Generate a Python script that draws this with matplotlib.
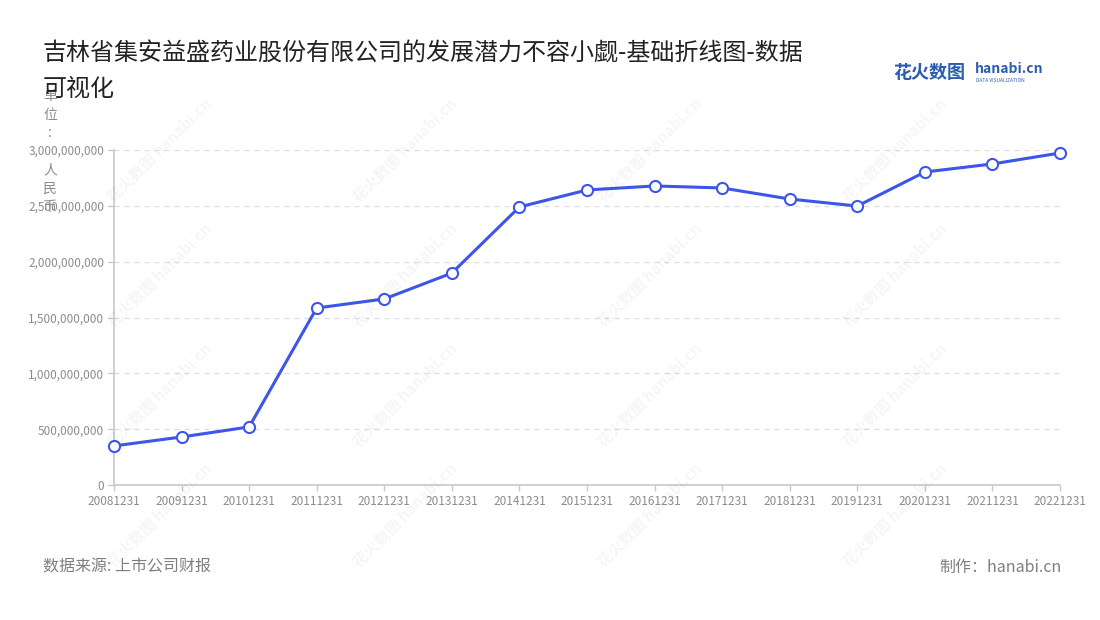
import matplotlib
matplotlib.use("Agg")
import matplotlib.pyplot as plt
from matplotlib.ticker import FuncFormatter

plt.rcParams['font.family'] = ['Noto Sans CJK SC', 'DejaVu Sans']

# 数据
years = ["20081231", "20091231", "20101231", "20111231", "20121231", "20131231",
         "20141231", "20151231", "20161231", "20171231", "20181231", "20191231",
         "20201231", "20211231", "20221231"]
values = [350e6, 430e6, 520e6, 1585e6, 1666e6, 1898e6, 2490e6, 2642e6,
          2678e6, 2660e6, 2561e6, 2498e6, 2803e6, 2875e6, 2973e6]
yticks = [0, 500e6, 1000e6, 1500e6, 2000e6, 2500e6, 3000e6]

title = "吉林省集安益盛药业股份有限公司的发展潜力不容小觑-基础折线图-数据\n可视化"
unit = "单位: 人民币"

fig = plt.figure(figsize=(11, 6.2), dpi=100)
ax = fig.add_axes([114/1100, 1-485/620, (1060-114)/1100, (485-150)/620])

xs = list(range(len(years)))
ax.plot(xs, values, color="#3d55e8", lw=2.2, marker="o", ms=8,
        mfc="white", mec="#3d55e8", mew=1.5, zorder=5, clip_on=False)

ax.set_xlim(0, len(years)-1)
ax.set_ylim(0, 3000e6)
ax.set_xticks(xs)
ax.set_xticklabels(years)
ax.set_yticks(yticks)
ax.yaxis.set_major_formatter(FuncFormatter(lambda v, p: f"{int(v):,}"))
ax.grid(axis="y", color="#dddddd", ls=(0, (4, 4)), lw=0.9)
ax.set_axisbelow(True)
for s in ["top", "right"]:
    ax.spines[s].set_visible(False)
for s in ["left", "bottom"]:
    ax.spines[s].set_color("#c8c8c8")
    ax.spines[s].set_linewidth(1.2)
ax.tick_params(axis="both", colors="#c8c8c8", labelcolor="#8c8c8c",
               labelsize=8.5, length=4, width=1)
ax.tick_params(axis="y", pad=3)

# 单位竖排
for i, ch in enumerate(unit):
    fig.text(50/1100, 1-(96 + i*18.5)/620, ch, ha="center", va="center",
             fontsize=10, color="#8c8c8c")

# 标题
fig.text(43/1100, 1-41/620, title, ha="left", va="top", fontsize=17.3,
         color="#222222", linespacing=1.45)

# logo
fig.text(893/1100, 1-73/620, "花火数图", ha="left", va="center", fontsize=13,
         color="#2a5cb0", fontweight="bold")
fig.text(975/1100, 1-69/620, "hanabi.cn", ha="left", va="center", fontsize=10,
         color="#2a5cb0", fontweight="bold")
fig.text(976/1100, 1-80/620, "DATA VISUALIZATION", ha="left", va="center",
         fontsize=3.5, color="#2a5cb0")

# 水印
for wx in [160, 405, 650, 895]:
    for wy in [150, 275, 395, 515]:
        fig.text(wx/1100, 1-wy/620, "花火数图 hanabi.cn", ha="center", va="center",
                 fontsize=11, color="#000000", alpha=0.04, rotation=45,
                 fontweight="bold")

# 页脚
fig.text(43/1100, 1-567/620, "数据来源: 上市公司财报", ha="left", va="center",
         fontsize=11.5, color="#7f7f7f")
fig.text(1062/1100, 1-567/620, "制作：hanabi.cn", ha="right", va="center",
         fontsize=11.5, color="#7f7f7f")

fig.savefig("out.png", dpi=100)
